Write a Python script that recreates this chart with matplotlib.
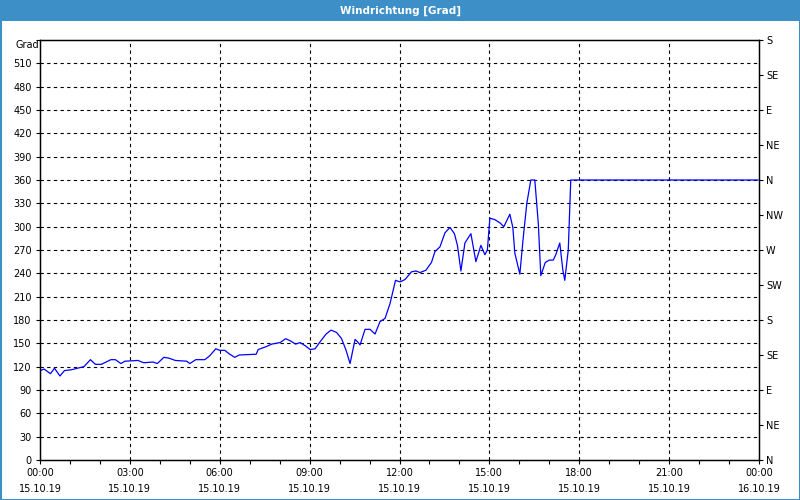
import matplotlib
matplotlib.use("Agg")
import matplotlib.pyplot as plt
from matplotlib.ticker import FixedLocator, MultipleLocator
from matplotlib.patches import Rectangle

title = "Windrichtung [Grad]"
y_label = "Grad"

# minutes since 15.10.19 00:00
minutes = [1, 8, 21, 29, 40, 49, 63, 75, 88, 101, 111, 123, 142, 151, 162, 170,
           196, 208, 226, 235, 248, 258, 271, 294, 300, 312, 330, 340, 352, 360,
           370, 380, 390, 399, 433, 437, 454, 464, 481, 492, 502, 512, 521, 531,
           541, 551, 561, 573, 583, 594, 604, 613, 621, 631, 636, 641, 651, 661,
           671, 681, 691, 701, 712, 721, 731, 744, 753, 761, 773, 784, 791, 801,
           811, 821, 830, 836, 843, 851, 863, 873, 883, 891, 896, 901, 911, 921,
           929, 941, 947, 951, 961, 968, 975, 983, 991, 998, 1003, 1012, 1020,
           1028, 1033, 1041, 1047, 1051, 1058, 1063, 1438]
degrees = [115, 117, 111, 118, 108, 115, 116, 118, 120, 129, 123, 123, 129, 129, 124, 127,
           128, 125, 126, 124, 132, 131, 128, 127, 124, 129, 129, 134, 143, 141,
           141, 136, 132, 135, 136, 142, 146, 149, 151, 156, 153, 149, 151, 147,
           142, 143, 152, 162, 167, 164, 156, 141, 124, 155, 152, 148, 168, 168,
           162, 178, 182, 201, 231, 229, 232, 242, 243, 241, 244, 254, 268, 274,
           292, 299, 291, 276, 243, 279, 291, 255, 276, 264, 270, 311, 309, 305,
           300, 316, 299, 266, 239, 287, 330, 360, 360, 304, 237, 254, 257,
           257, 264, 279, 245, 231, 270, 360, 360]

x_tick_labels = ["00:00\n15.10.19", "03:00\n15.10.19", "06:00\n15.10.19",
                 "09:00\n15.10.19", "12:00\n15.10.19", "15:00\n15.10.19",
                 "18:00\n15.10.19", "21:00\n15.10.19", "00:00\n16.10.19"]
y_ticks = list(range(0, 541, 30))
right_labels = ["N", "NE", "E", "SE", "S", "SW", "W", "NW", "N", "NE", "E", "SE", "S"]
right_ticks = list(range(0, 541, 45))

hours = [m / 60 for m in minutes]

fig = plt.figure(figsize=(8, 5), dpi=100)
fig.patch.set_facecolor("white")

blue = "#3c8fc7"
# title bar and border
fig.patches.append(Rectangle((0, 1 - 21 / 500), 1, 21 / 500, transform=fig.transFigure,
                             facecolor=blue, edgecolor="none", zorder=0))
fig.patches.append(Rectangle((0.5 / 800, 0.5 / 500), 1 - 1 / 800, 1 - 1 / 500,
                             transform=fig.transFigure, facecolor="none",
                             edgecolor=blue, linewidth=1.5, zorder=0))
fig.text(0.5, 1 - 10.5 / 500, title, color="white", fontsize=7.5, fontweight="bold",
         ha="center", va="center")

ax = fig.add_axes([40 / 800, 40 / 500, 719 / 800, 420 / 500])
ax.plot(hours, degrees, color="#0000ff", linewidth=0.9, zorder=3)
ax.set_xlim(0, 24)
ax.set_ylim(0, 540)

ax.xaxis.set_major_locator(FixedLocator(list(range(0, 25, 3))))
ax.xaxis.set_minor_locator(MultipleLocator(1))
ax.set_xticklabels(x_tick_labels, fontsize=7, linespacing=1.75)
ax.set_yticks(y_ticks)
ax.set_yticklabels([str(v) for v in y_ticks[:-1]] + [""], fontsize=7)
ax.tick_params(axis="both", which="both", direction="out", length=3, width=0.8,
               colors="black", pad=3)
ax.tick_params(axis="x", which="major", pad=3)

for v in y_ticks[1:-1]:
    ax.axhline(v, color="black", linestyle=(0, (3, 3)), linewidth=0.8, zorder=1)
for h in range(3, 24, 3):
    ax.axvline(h, color="black", linestyle=(0, (3, 3)), linewidth=0.8, zorder=1)

for s in ax.spines.values():
    s.set_linewidth(1.0)

ax2 = ax.twinx()
ax2.set_ylim(0, 540)
ax2.set_yticks(right_ticks)
ax2.set_yticklabels(right_labels, fontsize=7)
ax2.tick_params(axis="y", direction="out", length=3, width=0.8, pad=2)

fig.text(27 / 800, 1 - 45 / 500, y_label, fontsize=7, ha="center", va="center")

fig.savefig("out.png", dpi=100)
